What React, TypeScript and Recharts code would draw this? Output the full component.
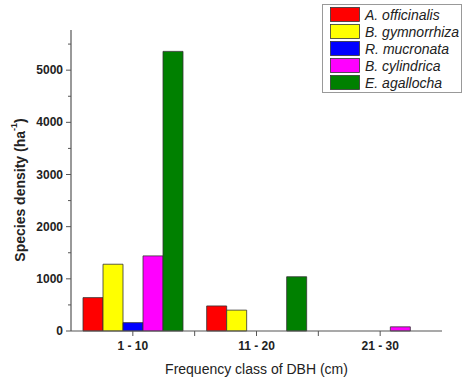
import React from "react";
import { Bar, BarChart, Customized, XAxis, YAxis } from "recharts";

const categories = ["1 - 10", "11 - 20", "21 - 30"];
const species = ["A. officinalis", "B. gymnorrhiza", "R. mucronata", "B. cylindrica", "E. agallocha"];
const colors = ["#FF0000", "#FFFF00", "#0000FF", "#FF00FF", "#008000"];

const aOfficinalis = [640, 480, 0];
const bGymnorrhiza = [1280, 400, 0];
const rMucronata = [160, 0, 0];
const bCylindrica = [1440, 0, 80];
const eAgallocha = [5360, 1040, 0];

const yTicks = [0, 500, 1000, 1500, 2000, 2500, 3000, 3500, 4000, 4500, 5000, 5500];

const seriesValues = [aOfficinalis, bGymnorrhiza, rMucronata, bCylindrica, eAgallocha];
const data = categories.map((cls, i) => {
  const row: Record<string, string | number> = { cls };
  species.forEach((name, s) => {
    row[name] = seriesValues[s][i];
  });
  return row;
});

const W = 463;
const H = 383;
const LEFT = 71;
const RIGHT = 21;
const AXIS_BOTTOM = 331;
const BAND = (W - LEFT - RIGHT) / categories.length;
const FONT = "Arial, 'Liberation Sans', sans-serif";
const AXIS_COLOR = "#555";

const YTick = (props: any) => {
  const { y, payload } = props;
  const major = payload.value % 1000 === 0;
  return (
    <g>
      <line x1={LEFT - (major ? 5 : 3)} x2={LEFT} y1={y} y2={y} stroke={AXIS_COLOR} strokeWidth={1} />
      {major && (
        <text x={LEFT - 8} y={y + 4} textAnchor="end" fontSize={12} fontWeight="bold" fill="#222" fontFamily={FONT}>
          {payload.value}
        </text>
      )}
    </g>
  );
};

const XTick = (props: any) => {
  const { x, payload, index } = props;
  return (
    <g>
      <line x1={x} x2={x} y1={AXIS_BOTTOM} y2={AXIS_BOTTOM + 5} stroke={AXIS_COLOR} strokeWidth={1} />
      {index < categories.length - 1 && (
        <line x1={x + BAND / 2} x2={x + BAND / 2} y1={AXIS_BOTTOM} y2={AXIS_BOTTOM + 5} stroke={AXIS_COLOR} strokeWidth={1} />
      )}
      <text x={x} y={AXIS_BOTTOM + 19} textAnchor="middle" fontSize={12} fontWeight="bold" fill="#222" fontFamily={FONT}>
        {payload.value}
      </text>
    </g>
  );
};

const YTitle = () => (
  <text
    x={20}
    y={190}
    transform="rotate(-90, 20, 190)"
    textAnchor="middle"
    dominantBaseline="central"
    fontSize={14}
    fontWeight="bold"
    fill="#222"
    fontFamily={FONT}
  >
    Species density (ha
    <tspan fontSize={9} dy={-6}>-1</tspan>
    <tspan dy={6}>)</tspan>
  </text>
);

const XTitle = () => (
  <text x={LEFT + (W - LEFT - RIGHT) / 2} y={374} textAnchor="middle" fontSize={14} fill="#222" fontFamily={FONT}>
    Frequency class of DBH (cm)
  </text>
);

// legend box, top right
const LegendBox = () => (
  <g>
    <rect x={322.5} y={4.5} width={139} height={88} fill="#fff" stroke="#999" strokeWidth={1} />
    {species.map((name, i) => (
      <g key={name}>
        <rect x={330.5} y={7.5 + i * 17} width={29} height={14} fill={colors[i]} stroke="#333" strokeWidth={0.8} />
        <text x={365} y={19.5 + i * 17} fontSize={14} fontStyle="italic" fill="#222" fontFamily={FONT}>
          {name}
        </text>
      </g>
    ))}
  </g>
);

export default function App() {
  return (
    <div style={{ position: "absolute", left: 0, top: 0, width: W, height: H, background: "#fff" }}>
      <BarChart
        width={W}
        height={H}
        data={data}
        margin={{ top: 30, right: RIGHT, bottom: 0, left: 0 }}
        barSize={20}
        barGap={0}
      >
        <XAxis
          dataKey="cls"
          height={H - AXIS_BOTTOM}
          tickLine={false}
          axisLine={{ stroke: AXIS_COLOR, strokeWidth: 1.2 }}
          tick={<XTick />}
          interval={0}
          label={<XTitle />}
        />
        <YAxis
          width={LEFT}
          domain={[0, 5770]}
          ticks={yTicks}
          interval={0}
          tickLine={false}
          axisLine={{ stroke: AXIS_COLOR, strokeWidth: 1.2 }}
          tick={<YTick />}
          label={<YTitle />}
        />
        {species.map((name, i) => (
          <Bar key={name} dataKey={name} fill={colors[i]} stroke="#333" strokeWidth={0.8} isAnimationActive={false} />
        ))}
        <Customized component={<LegendBox />} />
      </BarChart>
    </div>
  );
}
